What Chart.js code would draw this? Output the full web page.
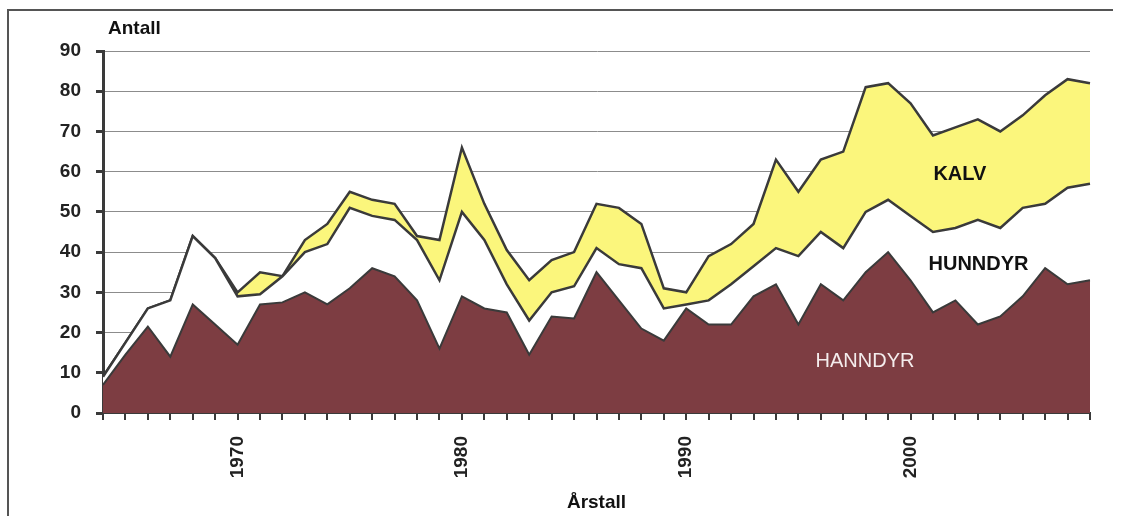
<!DOCTYPE html>
<html>
<head>
<meta charset="utf-8">
<script src="https://cdn.jsdelivr.net/npm/chart.js@4.4.1/dist/chart.umd.min.js"></script>
<style>
  body { margin: 0; background: #fff; }
  #wrap { width: 1122px; height: 517px; }
</style>
</head>
<body>
<div id="wrap"><canvas id="grafico"></canvas></div>
<script>
// aar 1964 - 2008
const aar = [];
for (let a = 1964; a <= 2008; a++) aar.push(String(a));
const visteAar = ['1970', '1980', '1990', '2000'];

const hanndyr = [7, 14.5, 21.5, 14, 27, 22, 17, 27, 27.5, 30,
  27, 31, 36, 34, 28, 16, 29, 26, 25, 14.5,
  24, 23.5, 35, 28, 21, 18, 26, 22, 22, 29,
  32, 22, 32, 28, 35, 40, 33, 25, 28, 22,
  24, 29, 36, 32, 33];
const hunndyr = [2, 3, 4.5, 14, 17, 16.5, 12, 2.5, 6.5, 10,
  15, 20, 13, 14, 15, 17, 21, 17, 7, 8.5,
  6, 8, 6, 9, 15, 8, 1, 6, 10, 7.5,
  9, 17, 13, 13, 15, 13, 16, 20, 18, 26,
  22, 22, 16, 24, 24];
const kalv = [0, 0, 0, 0, 0, 0, 1, 5.5, 0, 3,
  5, 4, 4, 4, 1, 10, 16, 9, 8.5, 10,
  8, 8.5, 11, 14, 11, 5, 3, 11, 10, 10.5,
  22, 16, 18, 24, 31, 29, 28, 24, 25, 25,
  24, 23, 27, 27, 25];

const font = "'Liberation Sans', Arial, sans-serif";
const strek = '#3a3a3a';

// tekst inne i feltene + ramme rundt
const etiketter = {
  id: 'etiketter',
  afterDatasetsDraw(chart) {
    const c = chart.ctx;
    const x = chart.scales.x, y = chart.scales.y;
    c.save();
    c.textAlign = 'center';
    c.textBaseline = 'middle';
    c.font = 'bold 20px ' + font;
    c.fillStyle = '#111';
    c.fillText('KALV', x.getPixelForValue(38.2), y.getPixelForValue(59.2));
    c.fillText('HUNNDYR', x.getPixelForValue(39.03), y.getPixelForValue(36.8));
    c.font = '20px ' + font;
    c.fillStyle = '#f4ecec';
    c.fillText('HANNDYR', x.getPixelForValue(33.97), y.getPixelForValue(12.8));
    // Antall
    c.textAlign = 'left';
    c.textBaseline = 'alphabetic';
    c.font = 'bold 19px ' + font;
    c.fillStyle = '#111';
    c.fillText('Antall', chart.chartArea.left + 5, 34);
    // ramme
    c.strokeStyle = '#555';
    c.lineWidth = 2;
    c.beginPath();
    c.moveTo(8, 516);
    c.lineTo(8, 10);
    c.lineTo(1113, 10);
    c.stroke();
    c.restore();
  }
};

const ctx = document.getElementById('grafico').getContext('2d');

new Chart(ctx, {
  type: 'line',
  data: {
    labels: aar,
    datasets: [{
      label: 'HANNDYR',
      data: hanndyr,
      fill: 'origin',
      backgroundColor: '#7d3d42',
      borderColor: strek,
      borderWidth: 2
    }, {
      label: 'HUNNDYR',
      data: hunndyr,
      fill: '-1',
      backgroundColor: '#ffffff',
      borderColor: strek,
      borderWidth: 2.5
    }, {
      label: 'KALV',
      data: kalv,
      fill: '-1',
      backgroundColor: '#fbf67c',
      borderColor: strek,
      borderWidth: 2.5
    }]
  },
  options: {
    responsive: true,
    maintainAspectRatio: false,
    animation: false,
    elements: { point: { radius: 0 }, line: { tension: 0 } },
    layout: { padding: { left: 8, top: 51, right: 32, bottom: 0 } },
    plugins: {
      legend: { display: false },
      tooltip: { enabled: false }
    },
    scales: {
      x: {
        offset: false,
        afterFit(scale) {
          scale.height = 104;
          scale.paddingLeft = 0;
          scale.paddingRight = 0;
        },
        border: { color: strek, width: 2 },
        grid: { drawOnChartArea: false, drawTicks: true, tickLength: 7, color: strek, lineWidth: 2 },
        ticks: {
          autoSkip: false,
          minRotation: 90,
          maxRotation: 90,
          padding: 16,
          color: '#222',
          font: { family: font, size: 19, weight: 'bold' },
          callback(v) {
            const l = this.getLabelForValue(v);
            return visteAar.includes(l) ? l : '';
          }
        },
        title: {
          display: true,
          text: 'Årstall',
          color: '#111',
          font: { family: font, size: 19, weight: 'bold' },
          padding: { top: 0, bottom: 3 }
        }
      },
      y: {
        stacked: true,
        min: 0,
        max: 90,
        afterFit(scale) { scale.width = 95; },
        border: { color: strek, width: 3 },
        grid: { color: '#8c8c8c', lineWidth: 1, tickLength: 7, tickColor: strek, tickWidth: 3 },
        ticks: {
          stepSize: 10,
          padding: 15,
          color: '#222',
          font: { family: font, size: 19, weight: 'bold' }
        }
      }
    }
  },
  plugins: [etiketter]
});
</script>
</body>
</html>
